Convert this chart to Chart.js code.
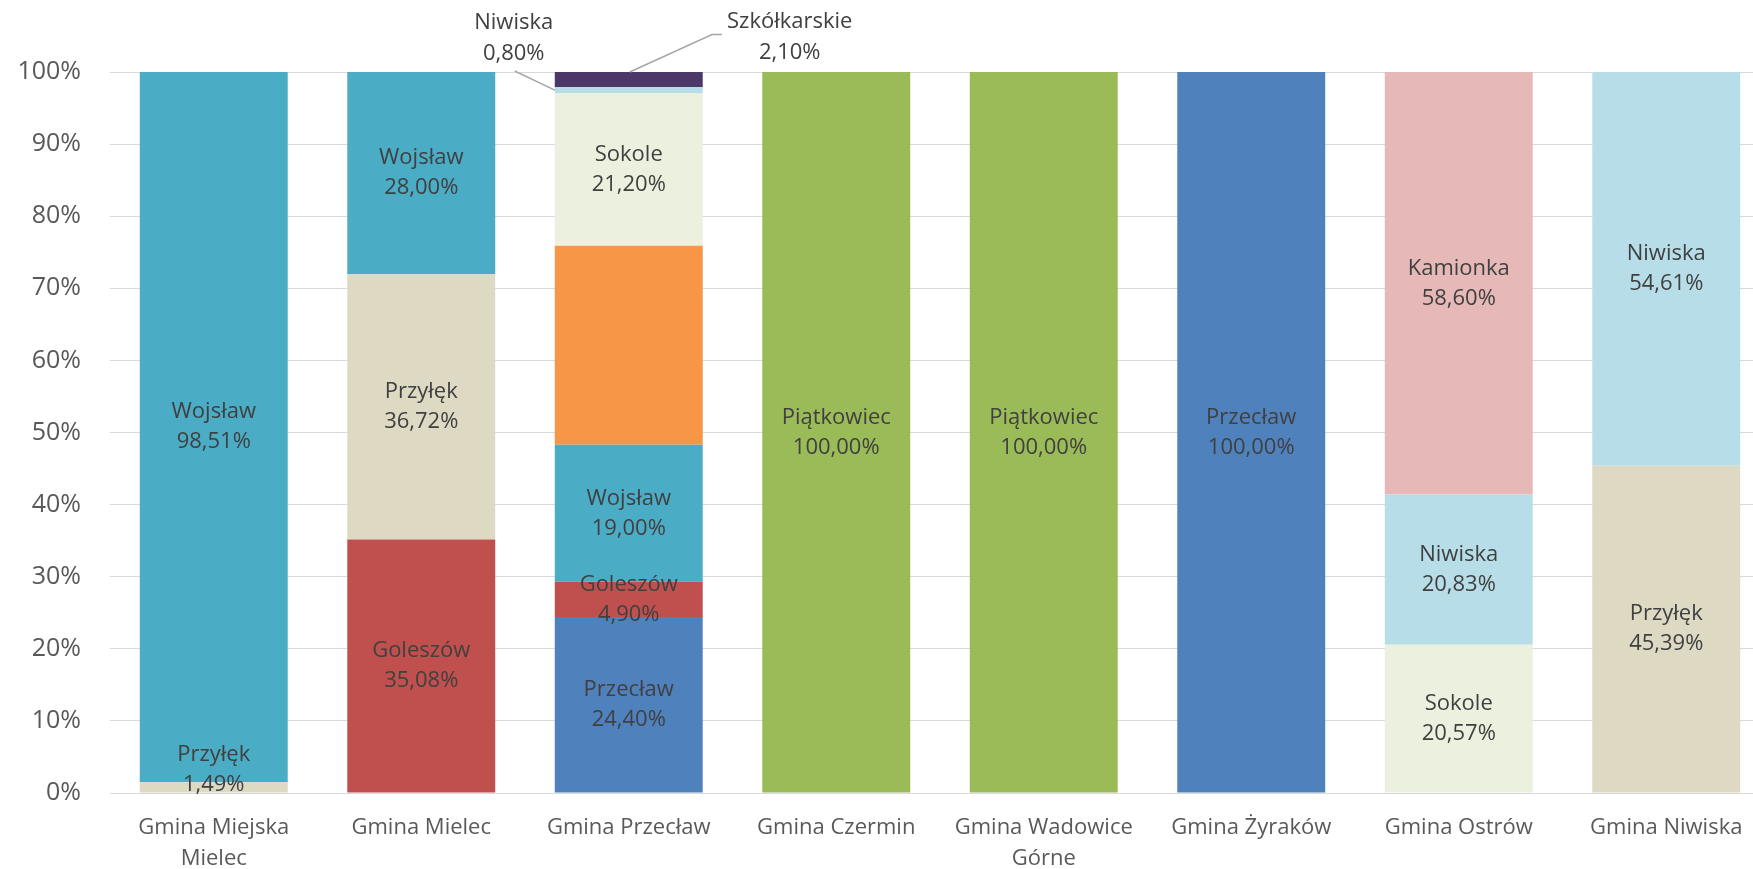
<!DOCTYPE html>
<html>
<head>
<meta charset="utf-8">
<script src="https://cdn.jsdelivr.net/npm/chart.js@4"></script>
<style>
	html, body { margin: 0; padding: 0; background: #fff; overflow: hidden; }
	#wrap { width: 1753px; height: 869px; overflow: hidden; }
</style>
</head>
<body>
<div id="wrap">
	<canvas id="shareChart" width="1770" height="869"></canvas>
</div>
<script>
const gminy = [
	['Gmina Miejska', 'Mielec'],
	'Gmina Mielec',
	'Gmina Przecław',
	'Gmina Czermin',
	['Gmina Wadowice', 'Górne'],
	'Gmina Żyraków',
	'Gmina Ostrów',
	'Gmina Niwiska'
];

// udział (%) w kolejnych gminach, od dołu słupka
const przeclaw     = [null, null, 24.40, null, null, 100.00, null, null];
const goleszow     = [null, 35.08, 4.90, null, null, null, null, null];
const przylek      = [1.49, 36.72, null, null, null, null, null, 45.39];
const wojslaw      = [98.51, 28.00, 19.00, null, null, null, null, null];
const pozostale    = [null, null, 27.60, null, null, null, null, null];
const sokole       = [null, null, 21.20, null, null, null, 20.57, null];
const niwiska      = [null, null, 0.80, null, null, null, 20.83, 54.61];
const kamionka     = [null, null, null, null, null, null, 58.60, null];
const szkolkarskie = [null, null, 2.10, null, null, null, null, null];
const piatkowiec   = [null, null, null, 100.00, 100.00, null, null, null];

const yTicks = [0, 10, 20, 30, 40, 50, 60, 70, 80, 90, 100];

const FONT = "'Open Sans', 'Noto Sans', sans-serif";

const series = [
	['Przecław', przeclaw, '#4f81bd'],
	['Goleszów', goleszow, '#c0504d'],
	['Przyłęk', przylek, '#ddd9c3'],
	['Wojsław', wojslaw, '#4bacc6'],
	['Pozostałe', pozostale, '#f79646'],
	['Sokole', sokole, '#ebf1de'],
	['Niwiska', niwiska, '#b7dee8'],
	['Kamionka', kamionka, '#e6b9b8'],
	['Szkółkarskie', szkolkarskie, '#4b3868'],
	['Piątkowiec', piatkowiec, '#9bbb59']
];

// wykres 100% - każda kolumna skalowana do sumy 100
const totals = gminy.map((g, i) => series.reduce((s, x) => s + (x[1][i] || 0), 0));

// etykiety wyniesione poza słupek (małe udziały)
const callouts = {
	'Niwiska': { dx: -115, dy: -52, side: 'left' },
	'Szkółkarskie': { dx: 161, dy: -43, side: 'right' }
};

const fmt = v => v.toFixed(2).replace('.', ',') + '%';

const labelPlugin = {
	id: 'segLabels',
	afterDatasetsDraw(chart) {
		const ctx = chart.ctx;
		const area = chart.chartArea;
		ctx.save();
		ctx.font = '22px ' + FONT;
		ctx.textAlign = 'center';
		ctx.textBaseline = 'middle';
		chart.data.datasets.forEach((ds, di) => {
			if (ds.noLabel) return;
			const meta = chart.getDatasetMeta(di);
			meta.data.forEach((bar, i) => {
				const v = ds.raw[i];
				if (v == null) return;
				const cy = (bar.y + bar.base) / 2;
				const co = callouts[ds.label];
				if (co && v < 3) {
					const lx = bar.x + co.dx;
					const ly = cy + co.dy;
					ctx.strokeStyle = '#a6a6a6';
					ctx.lineWidth = 1.5;
					ctx.beginPath();
					if (co.side === 'left') {
						ctx.moveTo(lx + 1, ly + 33);
						ctx.lineTo(bar.x - bar.width / 2, bar.y + 3);
					} else {
						const w = ctx.measureText(ds.label).width;
						const left = lx - w / 2;
						ctx.moveTo(bar.x + 1, bar.y);
						ctx.lineTo(left - 15, ly - 2);
						ctx.lineTo(left - 5, ly - 2);
					}
					ctx.stroke();
					ctx.fillStyle = '#404040';
					ctx.fillText(ds.label, lx, ly - 15);
					ctx.fillText(fmt(v), lx, ly + 16);
					return;
				}
				const y = Math.min(cy, area.bottom - 23);
				ctx.fillStyle = '#404040';
				ctx.fillText(ds.label, bar.x, y - 15);
				ctx.fillText(fmt(v), bar.x, y + 15);
			});
		});
		ctx.restore();
	}
};

new Chart(document.getElementById('shareChart'), {
	type: 'bar',
	data: {
		labels: gminy,
		datasets: series.map(([name, vals, color]) => ({
			label: name,
			raw: vals,
			data: vals.map((v, i) => v == null ? null : v / totals[i] * 100),
			backgroundColor: color,
			noLabel: name === 'Pozostałe'
		}))
	},
	options: {
		responsive: false,
		animation: false,
		devicePixelRatio: 1,
		layout: { padding: { top: 72, right: 0, bottom: 0, left: 0 } },
		datasets: {
			bar: { categoryPercentage: 1, barPercentage: 0.713, borderWidth: 0 }
		},
		plugins: {
			legend: { display: false },
			tooltip: { enabled: false }
		},
		scales: {
			x: {
				stacked: true,
				grid: { display: false },
				border: { display: false },
				ticks: {
					color: '#595959',
					padding: 11,
					font: { family: FONT, size: 22, lineHeight: 1.41 },
					maxRotation: 0,
					autoSkip: false
				},
				afterFit: s => { s.height = 76; }
			},
			y: {
				stacked: true,
				min: 0,
				max: 100,
				afterBuildTicks: s => { s.ticks = yTicks.map(v => ({ value: v })); },
				grid: { color: '#d9d9d9', lineWidth: 1, drawTicks: false },
				border: { display: false },
				ticks: {
					color: '#595959',
					padding: 29,
					font: { family: FONT, size: 25 },
					callback: v => v + '%'
				},
				afterFit: s => { s.width = 110; }
			}
		}
	},
	plugins: [labelPlugin]
});
</script>
</body>
</html>
